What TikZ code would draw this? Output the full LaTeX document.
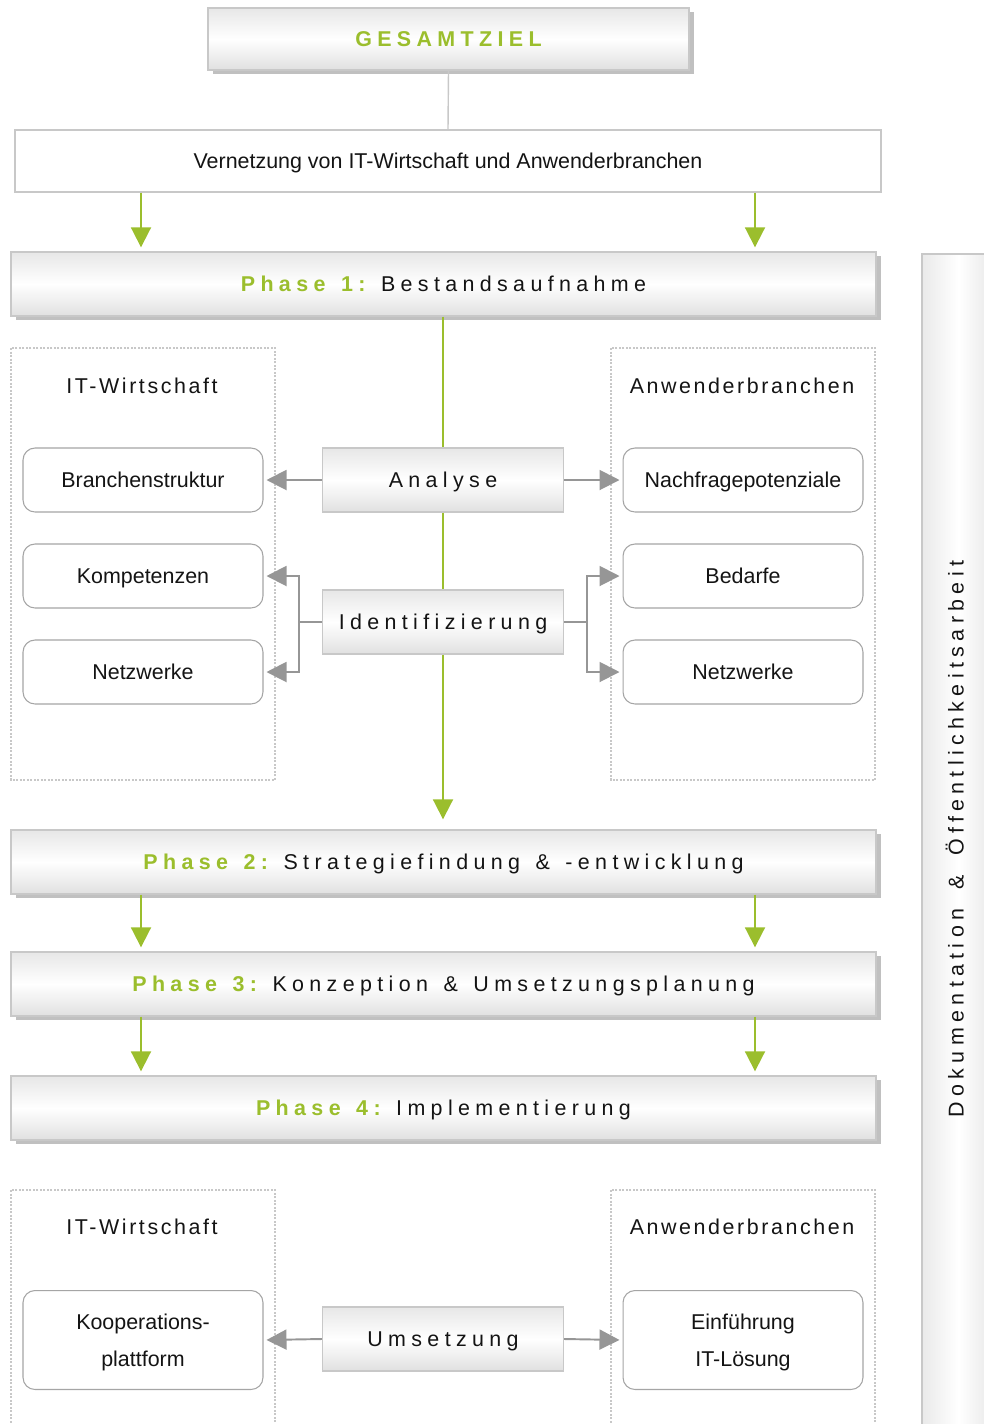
\documentclass[tikz,border=0pt]{standalone}
\usepackage{fontspec}
\setmainfont{Liberation Sans}
\newfontfamily\widefont[LetterSpace=25]{Liberation Sans}
\newfontfamily\halfwidefont[LetterSpace=12]{Liberation Sans}
\newcommand\gap{\ \hspace{0.085cm}}
\newcommand\widegap{\ \hspace{0.16cm}}
\definecolor{leafgreen}{RGB}{155,190,45}
\definecolor{framegray}{RGB}{200,200,200}
\definecolor{arrowgray}{RGB}{150,150,150}
\definecolor{roundgray}{RGB}{165,165,165}
\definecolor{shadowgray}{RGB}{192,192,192}
\definecolor{inkblack}{RGB}{20,20,20}
\usepackage{tikz}
\usetikzlibrary{arrows.meta,positioning,shadows,calc}

\begin{document}
\begin{tikzpicture}[x=0.02cm,y=-0.02cm,
      every node/.style={text=inkblack,font=\fontsize{12.2}{14}\selectfont},
      level/.style={text height=8.7pt,text depth=0pt},
      shine/.style={draw=framegray,line width=0.8pt,top color=gray!19,
                    bottom color=gray!24,middle color=white},
      phasebox/.style={shine,level,minimum width=17.3cm,minimum height=1.28cm,
                       font=\fontsize{12.2}{14}\selectfont\widefont,
                       general shadow={fill=shadowgray,shadow xshift=0.1cm,
                                       shadow yshift=-0.08cm}},
      goalbox/.style={phasebox,minimum width=9.62cm,minimum height=1.24cm},
      actbox/.style={shine,level,minimum width=4.82cm,minimum height=1.28cm,
                     font=\fontsize{12.2}{14}\selectfont\widefont},
      itembox/.style={draw=roundgray,line width=0.6pt,fill=white,
                      rounded corners=0.24cm,minimum width=4.8cm,
                      minimum height=1.28cm,align=center},
      grouptitle/.style={level,font=\fontsize{12.2}{14}\selectfont\halfwidefont},
      group/.style={draw=framegray,line width=0.6pt,
                    dash pattern=on 0.04cm off 0.03cm},
      gline/.style={draw=leafgreen,line width=1.1pt},
      garrow/.style={gline,-{Triangle[length=0.4cm,width=0.4cm]}},
      arr/.style={draw=arrowgray,line width=1.1pt,
                  -{Triangle[length=0.4cm,width=0.4cm]},shorten >=0.06cm},
      link/.style={draw=framegray,line width=0.8pt}]
  \useasboundingbox (0,0) rectangle (984,1424);
  \clip (0,0) rectangle (984,1424);

  % side bar
  \shade[left color=gray!17,right color=gray!19,middle color=white]
    (922,254) rectangle (995,1440);
  \draw[framegray,line width=1pt] (922,1440) -- (922,254) -- (995,254);
  \node[rotate=90,level,font=\fontsize{12.2}{14}\selectfont\widefont] (doku)
    at (956,839) {Dokumentation\widegap\&\widegap Öffentlichkeitsarbeit};

  % groups
  \foreach \y/\h in {348/780,1190/1440} {
    \draw[group] (11,\y) rectangle (275,\h);
    \draw[group] (611,\y) rectangle (875,\h);
  }

  % top
  \node[goalbox] (goal) at (448.5,39)
    {\color{leafgreen}\bfseries GESAMTZIEL};
  \node[draw=framegray,line width=0.8pt,fill=white,level,minimum width=17.32cm,
        minimum height=1.24cm] (vnet) at (448,161)
    {Vernetzung von IT-Wirtschaft und Anwenderbranchen};
  \draw[link] (goal.south) -- (vnet.north);

  % phases
  \node[phasebox] (ph1) at (443.5,284)
    {{\color{leafgreen}\bfseries Phase\gap 1:}\gap Bestandsaufnahme};
  \node[phasebox] (ph2) at (443.5,862)
    {{\color{leafgreen}\bfseries Phase\gap 2:}\gap Strategiefindung\gap\&\gap -entwicklung};
  \node[phasebox] (ph3) at (443.5,984)
    {{\color{leafgreen}\bfseries Phase\gap 3:}\gap Konzeption\gap\&\gap Umsetzungsplanung};
  \node[phasebox] (ph4) at (443.5,1108)
    {{\color{leafgreen}\bfseries Phase\gap 4:}\gap Implementierung};

  \foreach \a/\b in {vnet/ph1,ph2/ph3,ph3/ph4} {
    \draw[garrow,shorten >=0.08cm] (\a.south -| 141,0) -- (\b.north -| 141,0);
    \draw[garrow,shorten >=0.08cm] (\a.south -| 755,0) -- (\b.north -| 755,0);
  }

  % phase 1 detail
  \node[grouptitle] (itl) at (142,386) {IT-Wirtschaft};
  \node[grouptitle] (anl) at (742,386) {Anwenderbranchen};
  \node[itembox,level] (struk) at (143,480) {Branchenstruktur};
  \node[itembox,level] (komp) at (143,576) {Kompetenzen};
  \node[itembox,level] (netzl) at (143,672) {Netzwerke};
  \node[itembox,level] (nach) at (743,480) {Nachfragepotenziale};
  \node[itembox,level] (bed) at (743,576) {Bedarfe};
  \node[itembox,level] (netzr) at (743,672) {Netzwerke};
  \node[actbox] (ana) at (443,480) {Analyse};
  \node[actbox] (ident) at (443,622) {Identifizierung};

  \draw[gline] (ph1.south -| ana) -- (ana.north);
  \draw[gline] (ana.south) -- (ident.north);
  \draw[garrow,shorten >=0.2cm] (ident.south) -- (ph2.north -| ident);

  \draw[arr] (ana.west) -- (struk.east);
  \draw[arr] (ana.east) -- (nach.west);
  \coordinate (jl) at (299,622);
  \coordinate (jr) at (587,622);
  \draw[draw=arrowgray,line width=1.1pt] (ident.west) -- (jl);
  \draw[draw=arrowgray,line width=1.1pt] (ident.east) -- (jr);
  \draw[arr] (jl) |- (komp.east);
  \draw[arr] (jl) |- (netzl.east);
  \draw[arr] (jr) |- (bed.west);
  \draw[arr] (jr) |- (netzr.west);

  % phase 4 detail
  \node[grouptitle] (itl2) at (142,1227) {IT-Wirtschaft};
  \node[grouptitle] (anl2) at (742,1227) {Anwenderbranchen};
  \node[itembox,minimum height=1.98cm,font=\fontsize{12.2}{21}\selectfont]
    (koop) at (143,1340) {\rule{0pt}{12pt}Kooperations-\\plattform};
  \node[itembox,minimum height=1.98cm,font=\fontsize{12.2}{21}\selectfont]
    (einf) at (743,1340) {\rule{0pt}{12pt}Einführung\\IT-Lösung};
  \node[actbox] (ums) at (443,1339) {Umsetzung};
  \draw[arr] (ums.west) -- (koop.east);
  \draw[arr] (ums.east) -- (einf.west);
\end{tikzpicture}
\end{document}
